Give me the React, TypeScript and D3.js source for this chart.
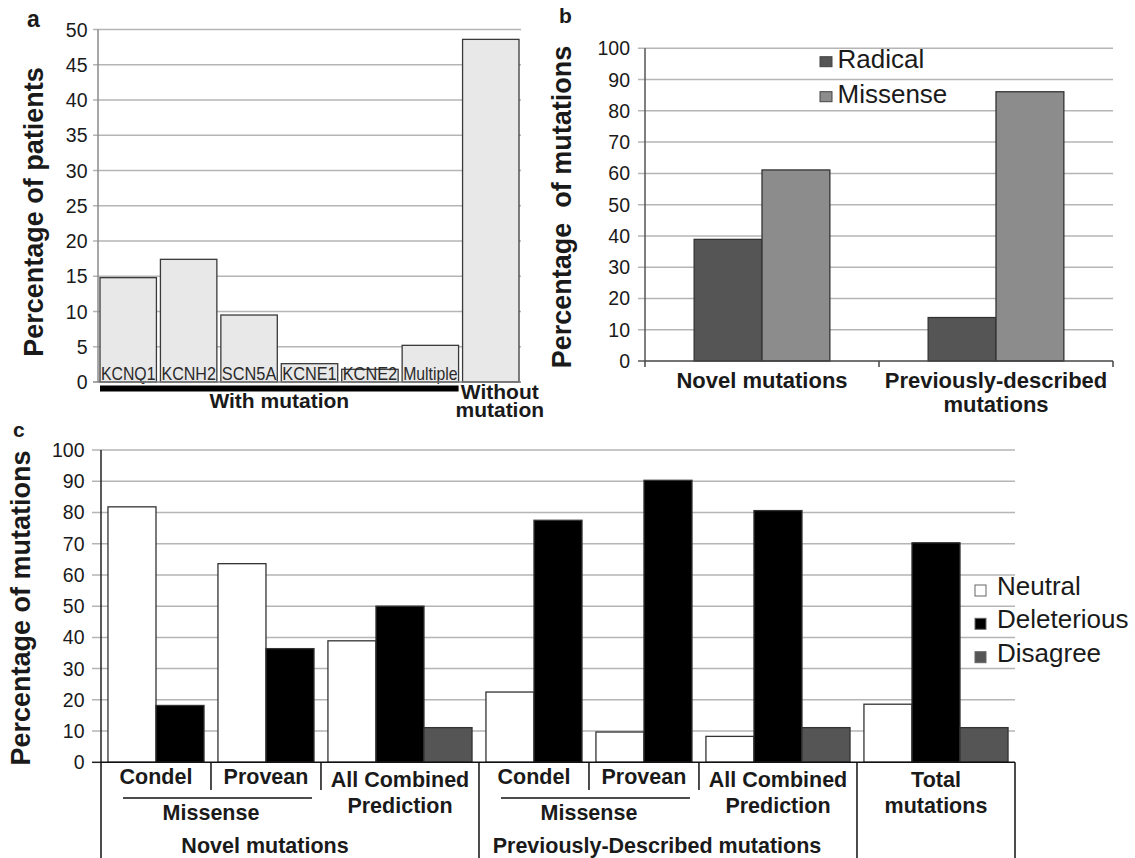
import React from "react";
import * as d3 from "d3";

// ---------- DATA ----------
const aCategories = ["KCNQ1", "KCNH2", "SCN5A", "KCNE1", "KCNE2", "Multiple", "Without"];
const aValues = [14.8, 17.4, 9.5, 2.6, 1.8, 5.2, 48.6];
const aTicks = [0, 5, 10, 15, 20, 25, 30, 35, 40, 45, 50];

const bCategories = ["Novel mutations", "Previously-described mutations"];
const bSeries = ["Radical", "Missense"];
const bRadical = [38.9, 13.9];
const bMissense = [61.1, 86.1];
const bTicks = [0, 10, 20, 30, 40, 50, 60, 70, 80, 90, 100];

const cCategories = ["Condel", "Provean", "All Combined Prediction", "Condel", "Provean", "All Combined Prediction", "Total mutations"];
const cSeries = ["Neutral", "Deleterious", "Disagree"];
const cNeutral = [81.8, 63.6, 38.9, 22.5, 9.7, 8.3, 18.6];
const cDeleterious = [18.2, 36.4, 50.0, 77.5, 90.3, 80.6, 70.3];
const cDisagree: (number | null)[] = [null, null, 11.1, null, null, 11.1, 11.1];
const cTicks = [0, 10, 20, 30, 40, 50, 60, 70, 80, 90, 100];
const cGroupLabels = [
  { label: "Missense", from: 0, to: 1 },
  { label: "Missense", from: 3, to: 4 },
];
const cSuperLabels = [
  { label: "Novel mutations", from: 0, to: 2 },
  { label: "Previously-Described mutations", from: 3, to: 5 },
];

// ---------- STYLE ----------
const FONT = "'Liberation Sans', Arial, Helvetica, sans-serif";
const TXT = "#1a1a1a";
const GRID = "#b5b5b5";

function HText(props: any) {
  const { x, y, anchor = "start", size, weight = "normal", fill = TXT, children, style } = props;
  return (
    <text x={x} y={y} textAnchor={anchor} fontSize={size} fontWeight={weight} fill={fill} fontFamily={FONT} style={style}>
      {children}
    </text>
  );
}

function VTitle(props: any) {
  const { x, y, size = 27, children } = props;
  return (
    <text
      transform={`translate(${x},${y}) rotate(-90)`}
      textAnchor="middle"
      fontSize={size}
      fontWeight="bold"
      fill={TXT}
      fontFamily={FONT}
      style={{ whiteSpace: "pre" }}
    >
      {children}
    </text>
  );
}

// ---------- PANEL A ----------
function PanelA() {
  const x = d3.scaleBand<string>().domain(aCategories).range([98, 521]).paddingInner(0.066).paddingOuter(0.033);
  const y = d3.scaleLinear().domain([0, 50]).range([382, 29.5]);
  const bw = x.bandwidth();
  const withStart = x(aCategories[0])!;
  const withEnd = x(aCategories[5])! + bw;
  const woCenter = x(aCategories[6])! + bw / 2 + 9;
  return (
    <g>
      {aTicks.map((t) => (
        <g key={t}>
          {t > 0 && <line x1={93} x2={521} y1={y(t)} y2={y(t)} stroke={GRID} strokeWidth={1.5} />}
          {t === 0 && <line x1={93} x2={98} y1={y(t)} y2={y(t)} stroke="#888" strokeWidth={1.5} />}
          <HText x={87.5} y={y(t) + 7} anchor="end" size={19.5}>{t}</HText>
        </g>
      ))}
      {aCategories.map((c, i) => (
        <rect key={c} x={x(c)!} y={y(aValues[i])} width={bw} height={y(0) - y(aValues[i])}
          fill="#e8e8e8" stroke="#3a3a3a" strokeWidth={1.3} />
      ))}
      {aCategories.slice(0, 6).map((c) => (
        <text key={c + "l"} x={x(c)! + 1} y={379.5} fontSize={19} fontFamily={FONT} fill="#2a2a2a"
          textLength={bw - 2} lengthAdjust="spacingAndGlyphs">{c}</text>
      ))}
      <line x1={98} x2={98} y1={29.5} y2={382} stroke="#8a8a8a" strokeWidth={1.5} />
      <line x1={98} x2={521} y1={382} y2={382} stroke="#7a7a7a" strokeWidth={1.5} />
      <rect x={withStart} y={385.5} width={withEnd - withStart} height={6} fill="#000" />
      <HText x={(withStart + withEnd) / 2} y={408} anchor="middle" size={21} weight="bold">With mutation</HText>
      <HText x={woCenter} y={399} anchor="middle" size={21} weight="bold">Without</HText>
      <HText x={woCenter} y={416.5} anchor="middle" size={21} weight="bold">mutation</HText>
      <VTitle x={42.5} y={212}>Percentage of patients</VTitle>
      <HText x={27} y={27} size={23} weight="bold">a</HText>
    </g>
  );
}

// ---------- PANEL B ----------
function PanelB() {
  const x = d3.scaleBand<string>().domain(bCategories).range([645, 1113]).paddingInner(0.42).paddingOuter(0.21);
  const xs = d3.scaleBand<string>().domain(bSeries).range([0, x.bandwidth()]);
  const y = d3.scaleLinear().domain([0, 100]).range([361, 48.3]);
  const colors: Record<string, string> = { Radical: "#555555", Missense: "#8c8c8c" };
  const vals: Record<string, number[]> = { Radical: bRadical, Missense: bMissense };
  const step = x.step();
  const bounds = [645, 645 + step, 645 + 2 * step];
  return (
    <g>
      {bTicks.map((t) => (
        <g key={t}>
          {t > 0 && <line x1={638} x2={1113} y1={y(t)} y2={y(t)} stroke={GRID} strokeWidth={1.5} />}
          {t === 0 && <line x1={638} x2={645} y1={y(t)} y2={y(t)} stroke="#555" strokeWidth={1.5} />}
          <HText x={630} y={y(t) + 7} anchor="end" size={19.5}>{t}</HText>
        </g>
      ))}
      {bCategories.map((c, i) =>
        bSeries.map((s) => (
          <rect key={c + s} x={x(c)! + xs(s)!} y={y(vals[s][i])} width={xs.bandwidth()} height={y(0) - y(vals[s][i])}
            fill={colors[s]} stroke="#333" strokeWidth={1.3} />
        ))
      )}
      <line x1={645} x2={645} y1={48.3} y2={361} stroke="#555" strokeWidth={1.5} />
      <line x1={645} x2={1113} y1={361} y2={361} stroke="#444" strokeWidth={1.5} />
      {bounds.map((b, i) => (
        <line key={i} x1={b} x2={b} y1={361} y2={367} stroke="#444" strokeWidth={1.5} />
      ))}
      <HText x={x(bCategories[0])! + x.bandwidth() / 2} y={387.5} anchor="middle" size={22} weight="bold">Novel mutations</HText>
      <HText x={x(bCategories[1])! + x.bandwidth() / 2} y={387.5} anchor="middle" size={22} weight="bold">Previously-described</HText>
      <HText x={x(bCategories[1])! + x.bandwidth() / 2} y={411.5} anchor="middle" size={22} weight="bold">mutations</HText>
      {bSeries.map((s, i) => (
        <g key={s}>
          <rect x={820} y={56.7 + i * 35} width={12} height={10} fill={colors[s]} stroke="#444" strokeWidth={1} />
          <HText x={837.5} y={68.3 + i * 34.4} size={26}>{s}</HText>
        </g>
      ))}
      <VTitle x={571} y={207}>{"Percentage  of mutations"}</VTitle>
      <HText x={559} y={23} size={21} weight="bold">b</HText>
    </g>
  );
}

// ---------- PANEL C ----------
function PanelC() {
  const pad = 0.145;
  const nBars = cCategories.map((_, i) => (cDisagree[i] == null ? 2 : 3));
  const starts: number[] = [];
  let acc = 0;
  nBars.forEach((n) => {
    starts.push(acc);
    acc += n + 2 * pad;
  });
  const x = d3.scaleLinear().domain([0, acc]).range([101, 1015]);
  const unit = x(1) - x(0);
  const y = d3.scaleLinear().domain([0, 100]).range([762.3, 450]);
  const colors: Record<string, string> = { Neutral: "#ffffff", Deleterious: "#000000", Disagree: "#555555" };
  const vals: Record<string, (number | null)[]> = { Neutral: cNeutral, Deleterious: cDeleterious, Disagree: cDisagree };
  const catStart = (i: number) => x(starts[i]);
  const catEnd = (i: number) => x(starts[i] + nBars[i] + 2 * pad);
  const catMid = (i: number) => (catStart(i) + catEnd(i)) / 2;
  const fullLines = [catStart(0), catStart(3), catStart(6), catEnd(6)];
  const shortLines = [catStart(1), catStart(2), catStart(4), catStart(5)];
  const superOffsets = [-25, -11];
  const legendY = [595, 628.3, 661.7];
  return (
    <g>
      {cTicks.map((t) => (
        <g key={t}>
          {t > 0 && <line x1={92} x2={1015} y1={y(t)} y2={y(t)} stroke={GRID} strokeWidth={1.5} />}
          {t === 0 && <line x1={92} x2={101} y1={y(t)} y2={y(t)} stroke="#222" strokeWidth={1.5} />}
          <HText x={84.5} y={y(t) + 7} anchor="end" size={19.5}>{t}</HText>
        </g>
      ))}
      {cCategories.map((c, i) =>
        cSeries.map((s, j) => {
          const v = vals[s][i];
          if (v == null) return null;
          const bx = x(starts[i] + pad + j);
          return (
            <rect key={i + s} x={bx} y={y(v)} width={unit} height={y(0) - y(v)}
              fill={colors[s]} stroke="#333" strokeWidth={1.3} />
          );
        })
      )}
      <line x1={101} x2={101} y1={450} y2={762.3} stroke="#222" strokeWidth={1.5} />
      <line x1={101} x2={1015} y1={762.3} y2={762.3} stroke="#111" strokeWidth={1.5} />
      {fullLines.map((lx, i) => (
        <line key={"f" + i} x1={lx} x2={lx} y1={762.3} y2={858} stroke="#111" strokeWidth={1.5} />
      ))}
      {shortLines.map((lx, i) => (
        <line key={"s" + i} x1={lx} x2={lx} y1={762.3} y2={790} stroke="#111" strokeWidth={1.5} />
      ))}
      {cCategories.map((c, i) => {
        const words = c === "All Combined Prediction" ? ["All Combined", "Prediction"] : c === "Total mutations" ? ["Total", "mutations"] : [c];
        return words.length === 1 ? (
          <HText key={"cl" + i} x={catMid(i)} y={784} anchor="middle" size={21.5} weight="bold">{words[0]}</HText>
        ) : (
          <g key={"cl" + i}>
            <HText x={catMid(i)} y={786.7} anchor="middle" size={21.5} weight="bold">{words[0]}</HText>
            <HText x={catMid(i)} y={813} anchor="middle" size={21.5} weight="bold">{words[1]}</HText>
          </g>
        );
      })}
      {cGroupLabels.map((g, i) => {
        const x1 = catStart(g.from) + 22;
        const x2 = catEnd(g.to) - 9;
        return (
          <g key={"g" + i}>
            <line x1={x1} x2={x2} y1={798} y2={798} stroke="#111" strokeWidth={1.5} />
            <HText x={(catStart(g.from) + catEnd(g.to)) / 2} y={820} anchor="middle" size={21.5} weight="bold">{g.label}</HText>
          </g>
        );
      })}
      {cSuperLabels.map((g, i) => (
        <HText key={"sl" + i} x={(catStart(g.from) + catEnd(g.to)) / 2 + superOffsets[i]} y={853} anchor="middle" size={21.5} weight="bold">{g.label}</HText>
      ))}
      {cSeries.map((s, i) => (
        <g key={s}>
          <rect x={975} y={legendY[i] - 10} width={11} height={11} fill={colors[s]} stroke="#666" strokeWidth={1} />
          <HText x={997} y={legendY[i]} size={26}>{s}</HText>
        </g>
      ))}
      <VTitle x={30} y={608}>Percentage of mutations</VTitle>
      <HText x={13} y={437} size={21} weight="bold">c</HText>
    </g>
  );
}

export default function App() {
  return (
    <svg width={1135} height={858} viewBox="0 0 1135 858"
      style={{ position: "absolute", left: 0, top: 0, background: "#fff" }}>
      <rect x={0} y={0} width={1135} height={858} fill="#fff" />
      <PanelA />
      <PanelB />
      <PanelC />
    </svg>
  );
}
